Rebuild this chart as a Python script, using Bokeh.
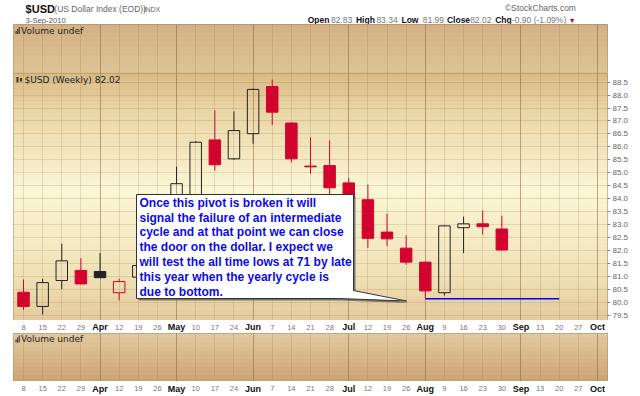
import numpy as np
import pandas as pd
from bokeh.plotting import figure
from bokeh.layouts import column
from bokeh.models import Range1d, ColumnDataSource, FixedTicker, Grid, PrintfTickFormatter
from bokeh.core.properties import value
from bokeh.embed import file_html
from bokeh.resources import INLINE

# ---------------- data ----------------
symbol = "$USD"
full_name = "(US Dollar Index (EOD))"
exchange = "INDX"
chart_date = "3-Sep-2010"

dates = ["2010-03-08", "2010-03-15", "2010-03-22", "2010-03-29", "2010-04-05",
         "2010-04-12", "2010-04-19", "2010-04-26", "2010-05-03", "2010-05-10",
         "2010-05-17", "2010-05-24", "2010-05-31", "2010-06-07", "2010-06-14",
         "2010-06-21", "2010-06-28", "2010-07-05", "2010-07-12", "2010-07-19",
         "2010-07-26", "2010-08-02", "2010-08-09", "2010-08-16", "2010-08-23",
         "2010-08-30"]
opens = [80.39, 79.84, 80.84, 81.23, 81.19, 80.37, 80.97, 81.40, 81.90, 84.00,
         86.27, 85.54, 86.51, 88.33, 86.92, 85.26, 85.28, 84.61, 83.96, 82.71,
         82.09, 81.55, 80.37, 82.88, 83.03, 82.83]
highs = [80.88, 80.91, 82.26, 81.70, 81.90, 80.91, 81.55, 82.10, 85.24, 86.22,
         87.41, 87.37, 88.25, 88.60, 86.95, 86.37, 86.25, 84.79, 84.54, 83.42,
         82.58, 81.57, 82.98, 83.31, 83.54, 83.34]
lows = [79.71, 79.53, 80.51, 80.70, 80.95, 80.07, 80.85, 81.20, 81.70, 83.80,
        85.09, 85.50, 86.12, 86.85, 85.41, 84.96, 84.10, 83.85, 82.09, 82.17,
        81.45, 80.14, 80.26, 81.90, 82.62, 81.99]
closes = [79.84, 80.76, 81.60, 80.71, 80.95, 80.80, 81.42, 81.85, 84.58, 86.18,
          85.31, 86.63, 88.22, 87.34, 85.54, 85.23, 84.42, 84.00, 82.47, 82.45,
          81.55, 80.44, 82.95, 83.03, 82.92, 82.02]
prior_close = 80.40

tick_dates = ["2010-03-08", "2010-03-15", "2010-03-22", "2010-03-29", "2010-04-05",
              "2010-04-12", "2010-04-19", "2010-04-26", "2010-05-03", "2010-05-10",
              "2010-05-17", "2010-05-24", "2010-05-31", "2010-06-07", "2010-06-14",
              "2010-06-21", "2010-06-28", "2010-07-05", "2010-07-12", "2010-07-19",
              "2010-07-26", "2010-08-02", "2010-08-09", "2010-08-16", "2010-08-23",
              "2010-08-30", "2010-09-06", "2010-09-13", "2010-09-20", "2010-09-27",
              "2010-10-04"]
tick_labels = ["8", "15", "22", "29", "Apr", "12", "19", "26", "May", "10",
               "17", "24", "Jun", "7", "14", "21", "28", "Jul", "12", "19",
               "26", "Aug", "9", "16", "23", "30", "Sep", "13", "20", "27", "Oct"]
price_ticks = [79.5, 80.0, 80.5, 81.0, 81.5, 82.0, 82.5, 83.0, 83.5, 84.0,
               84.5, 85.0, 85.5, 86.0, 86.5, 87.0, 87.5, 88.0, 88.5]

support_level = 80.14
support_start = "2010-08-02"
support_end = "2010-09-20"

note_lines = ["Once this pivot is broken it will",
              "signal the failure of an intermediate",
              "cycle and at that point we can close",
              "the door on the dollar. I expect we",
              "will test the all time lows at 71 by late",
              "this year when the yearly cycle is",
              "due to bottom."]

# ---------------- geometry helpers ----------------
WEEK = 7 * 24 * 3600 * 1000.0


def ms(d):
    return pd.Timestamp(d).value / 1e6


x = np.array([ms(d) for d in dates])
tick_x = np.array([ms(d) for d in tick_dates])
X0 = tick_x[0] - 0.523 * WEEK
X1 = tick_x[-1] + 0.523 * WEEK
xr = Range1d(X0, X1)
FL, FR = 13, 607
W = 640


def xpx(px):
    return X0 + (px - FL) * (X1 - X0) / (FR - FL)


YTOP, YBOT = 88.834, 79.297
MAIN_TOP, MAIN_H = 73, 247


def ypx(py):
    return YTOP - (py - MAIN_TOP) * (YTOP - YBOT) / MAIN_H


RED = "#d2042d"
BLACK = "#222222"
OUTLINE = "#a88a62"
week_ticks = list(tick_x)
month_ticks = [tx for tx, lab in zip(tick_x, tick_labels) if lab.isalpha()]


def hexrgb(h):
    h = h.lstrip("#")
    return np.array([int(h[i:i + 2], 16) for i in (0, 2, 4)], dtype=float)


def gradient(p, ytop, ybot, stops, n=60):
    ts = (np.arange(n) + 0.5) / n
    st = [s[0] for s in stops]
    cols = np.array([hexrgb(s[1]) for s in stops])
    rgb = np.stack([np.interp(ts, st, cols[:, k]) for k in range(3)], axis=1)
    colors = ["#%02x%02x%02x" % tuple(int(round(v)) for v in c) for c in rgb]
    edges = np.linspace(0, 1, n + 1)
    tops = ytop + (ybot - ytop) * edges[:-1]
    bots = ytop + (ybot - ytop) * edges[1:]
    p.quad(left=X0, right=X1, top=tops, bottom=bots, fill_color=colors,
           line_color=colors, line_width=0.5, level="image")


def vgrids(p):
    p.add_layout(Grid(dimension=0, ticker=FixedTicker(ticks=week_ticks),
                      grid_line_color="#9a7040", grid_line_alpha=0.2))
    p.add_layout(Grid(dimension=0, ticker=FixedTicker(ticks=month_ticks),
                      grid_line_color="#8a6030", grid_line_alpha=0.42))


def base_fig(h, yrange, **kw):
    p = figure(width=W, height=h, x_range=xr, y_range=yrange,
               x_axis_location=None, y_axis_location=kw.pop("yloc", None),
               toolbar_location=None, output_backend="svg",
               min_border_left=FL, min_border_right=W - FR,
               min_border_top=0, min_border_bottom=0,
               border_fill_color="white", background_fill_color="white", **kw)
    p.xgrid.visible = False
    p.ygrid.visible = False
    return p


def vol_icon(p, px, py, yconv):
    hs = [3, 5, 7]
    lefts = [xpx(px + i * 1.6) for i in range(3)]
    rights = [xpx(px + i * 1.6 + 1.1) for i in range(3)]
    p.quad(left=lefts, right=rights, bottom=[yconv(py + 3.5)] * 3,
           top=[yconv(py + 3.5 - h) for h in hs], fill_color="#333333", line_color=None)


# ---------------- header ----------------
hdr = figure(width=W, height=24, x_range=Range1d(0, W), y_range=Range1d(24, 0),
             x_axis_location=None, y_axis_location=None, toolbar_location=None,
             output_backend="svg", min_border=0, outline_line_color=None,
             background_fill_color="white", border_fill_color="white")
hdr.xgrid.visible = False
hdr.ygrid.visible = False
F = value("Liberation Sans")


def htxt(xp, yp, t, size, color, bold=False, align="left"):
    hdr.text(x=[xp], y=[yp], text=[t], text_font=F, text_font_size=size,
             text_color=color, text_font_style="bold" if bold else "normal",
             text_align=align, text_baseline="middle")


htxt(13, 8, symbol, "11px", "#111111", bold=True)
htxt(44, 8.5, full_name, "8.5px", "#666666")
htxt(140, 8.5, exchange, "7px", "#666666")
htxt(13, 19.5, chart_date, "7.7px", "#555555")
htxt(606, 7, "\u00a9StockCharts.com", "8.5px", "#666666", align="right")

chg = closes[-1] - closes[-2]
pct = chg / closes[-2] * 100
segs = [(317, "Open", True), (342, f"{opens[-1]:.2f}", False),
        (369, "High", True), (391, f"{highs[-1]:.2f}", False),
        (418, "Low", True), (441, f"{lows[-1]:.2f}", False),
        (467, "Close", True), (492, f"{closes[-1]:.2f}", False),
        (519, "Chg", True), (537, f"{chg:.2f} ({pct:.2f}%)", False)]
for xp, t, b in segs:
    htxt(xp, 19.5, t, "8.5px", "#111111" if b else "#777777", bold=b)
htxt(602, 19.5, "\u25bc" if chg < 0 else "\u25b2", "7px", "#cc0000" if chg < 0 else "#008800", align="center")

# ---------------- upper volume panel ----------------
v1 = base_fig(49, Range1d(49, 0), outline_line_color=OUTLINE)
gradient(v1, 0, 49, [(0, "#d2ae7f"), (1, "#dcc292")])
vgrids(v1)
vol_icon(v1, 15, 6, lambda v: v)
v1.text(x=[xpx(20.5)], y=[6], text=["Volume undef"], text_font=value("DejaVu Sans"),
        text_font_size="9px", text_color="#222222", text_baseline="middle")

# ---------------- main price panel ----------------
p = base_fig(MAIN_H, Range1d(YBOT, YTOP), yloc="right", outline_line_color=OUTLINE)
gradient(p, YTOP, YBOT, [(0, "#d8b985"), (0.15, "#e9d5a4"), (0.47, "#fbf6d5"),
                         (0.8, "#f1e3b8"), (1, "#e3ca9a")])
vgrids(p)
p.add_layout(Grid(dimension=1, ticker=FixedTicker(ticks=price_ticks),
                  grid_line_color="#9a7040", grid_line_alpha=0.2))
ax = p.yaxis[0]
ax.ticker = FixedTicker(ticks=price_ticks)
ax.formatter = PrintfTickFormatter(format="%.1f")
ax.major_label_text_font = "Liberation Sans"
ax.major_label_text_font_size = "8px"
ax.major_label_text_color = "#666666"
ax.major_tick_out = 3
ax.major_tick_in = 0
ax.major_tick_line_color = "#888888"
ax.minor_tick_line_color = None
ax.axis_line_color = None
ax.major_label_standoff = 2

o = np.array(opens)
c = np.array(closes)
h = np.array(highs)
lo = np.array(lows)
prev = np.concatenate([[prior_close], c[:-1]])
colors = [RED if ci < pi else BLACK for ci, pi in zip(c, prev)]
fill_alpha = [1.0 if ci < oi else 0.0 for ci, oi in zip(c, o)]
src = ColumnDataSource(dict(x=x, high=h, low=lo, top=np.maximum(o, c),
                            bottom=np.minimum(o, c), color=colors, fa=fill_alpha))
p.segment(x0="x", y0="high", x1="x", y1="top", line_color="color", line_width=1, source=src)
p.segment(x0="x", y0="bottom", x1="x", y1="low", line_color="color", line_width=1, source=src)
p.vbar(x="x", width=0.6 * WEEK, top="top", bottom="bottom", fill_color="color",
       fill_alpha="fa", line_color="color", line_width=1, source=src)

p.segment(x0=[ms(support_start)], x1=[ms(support_end)], y0=[support_level],
          y1=[support_level], line_color="#0000ff", line_width=1.5)

# panel label
p.quad(left=[xpx(16), xpx(19.5)], right=[xpx(18), xpx(21.5)],
       top=[ypx(76.5), ypx(77.5)], bottom=[ypx(82), ypx(81)],
       fill_color="#333333", line_color=None)
p.text(x=[xpx(24)], y=[ypx(79)], text=[f"{symbol} (Weekly) {closes[-1]:.2f}"],
       text_font=value("DejaVu Sans"), text_font_size="9px", text_color="#222222",
       text_baseline="middle")

# callout box
cl = [(136, 194), (353, 194), (353, 290), (406, 300.5), (338, 298), (136, 298)]
p.patch(x=[xpx(a + 2) for a, b in cl], y=[ypx(b + 2) for a, b in cl],
        fill_color="#555555", fill_alpha=0.75, line_color=None)
p.patch(x=[xpx(a) for a, b in cl], y=[ypx(b) for a, b in cl],
        fill_color="white", line_color="#333333", line_width=1)
p.text(x=[xpx(139)] * len(note_lines),
       y=[ypx(202.3 + i * 14.8) for i in range(len(note_lines))],
       text=note_lines, text_font=value("Liberation Sans"), text_font_size="12px",
       text_font_style="bold", text_color="#0b0bea", text_baseline="middle")


# ---------------- x label strips ----------------
def label_strip(h, ymid):
    s = base_fig(h, Range1d(h, 0), outline_line_color=None)
    nums = [(tx, t) for tx, t in zip(tick_x, tick_labels) if not t.isalpha()]
    mons = [(tx, t) for tx, t in zip(tick_x, tick_labels) if t.isalpha()]
    s.text(x=[a for a, b in nums], y=[ymid] * len(nums), text=[b for a, b in nums],
           text_font=value("Liberation Sans"), text_font_size="7.5px",
           text_color="#777777", text_align="center", text_baseline="middle")
    s.text(x=[a for a, b in mons], y=[ymid] * len(mons), text=[b for a, b in mons],
           text_font=value("Liberation Sans"), text_font_size="9px", text_font_style="bold",
           text_color="#111111", text_align="center", text_baseline="middle")
    return s


s1 = label_strip(13, 6.7)

# ---------------- lower volume panel ----------------
v2 = base_fig(48, Range1d(48, 0), outline_line_color=OUTLINE)
gradient(v2, 0, 48, [(0, "#e1c99d"), (1, "#c9a272")])
vgrids(v2)
vol_icon(v2, 15, 5.5, lambda v: v)
v2.text(x=[xpx(20.5)], y=[5.5], text=["Volume undef"], text_font=value("DejaVu Sans"),
        text_font_size="9px", text_color="#222222", text_baseline="middle")

s2 = label_strip(15, 7.3)

layout = column(hdr, v1, p, s1, v2, s2, spacing=0)
open("out.html", "w").write(file_html(layout, INLINE))
